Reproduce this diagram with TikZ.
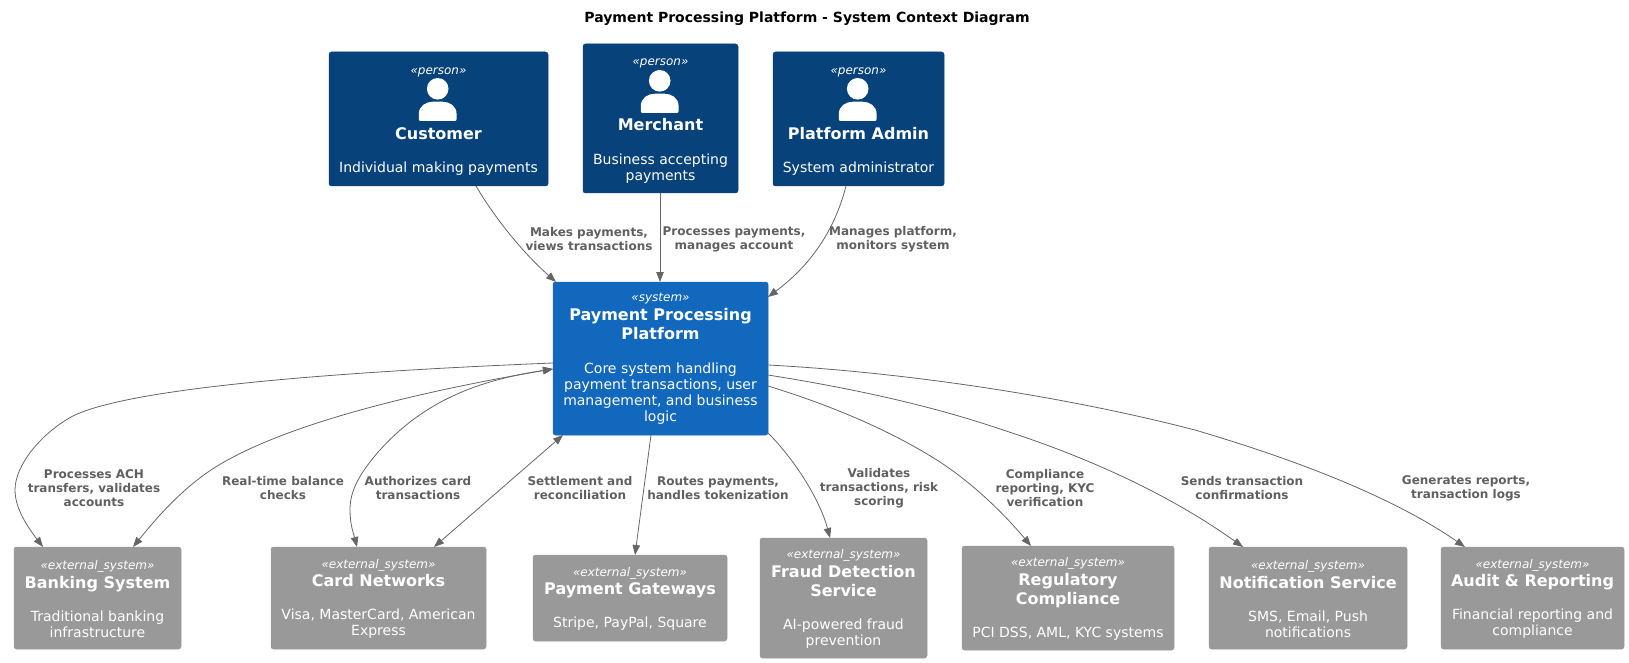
\documentclass[tikz,border=0pt]{standalone}
\usepackage{fontspec}
\setmainfont{DejaVu Sans}
\usetikzlibrary{arrows.meta,calc}
\definecolor{personc}{HTML}{08427B}
\definecolor{systemc}{HTML}{1168BD}
\definecolor{extc}{HTML}{999999}
\definecolor{linec}{HTML}{666666}
\definecolor{labelc}{HTML}{606060}
\newcommand{\sterline}[2][0pt]{{\fontsize{12}{16}\selectfont\itshape\rule{0pt}{#1}#2}}
\newcommand{\titleline}[1]{{\fontsize{16}{16}\selectfont\bfseries #1}}
\newcommand{\personicon}[1]{%
  \begin{scope}[shift={(#1.north)}]
    \fill[white] (-0.8,36.8) circle (10.8);
    \fill[white] (-17.7,69) -- (16.1,69) .. controls (17.5,69) and (18.1,68.4) .. (18.1,67) -- (18.1,62) .. controls (18.1,54) and (11,49.7) .. (4,49.7) -- (-5.6,49.7) .. controls (-12.6,49.7) and (-19.7,54) .. (-19.7,62) -- (-19.7,67) .. controls (-19.7,68.4) and (-19,69) .. (-17.7,69) -- cycle;
  \end{scope}}
\tikzset{
  basebox/.style={rectangle,rounded corners=2.5pt,inner sep=0pt,outer sep=0pt,align=center,text=white,line width=0.5pt,font=\fontsize{14}{16}\selectfont},
  personbox/.style={basebox,fill=personc,draw=personc},
  sysbox/.style={basebox,fill=systemc,draw=systemc},
  extbox/.style={basebox,fill=extc,draw=extc},
  conn/.style={draw=linec,line width=0.8pt},
  one/.style={conn,-{Triangle[length=10pt,width=7.5pt,fill=linec]}},
  both/.style={conn,{Triangle[length=10pt,width=7.5pt,fill=linec]}-{Triangle[length=10pt,width=7.5pt,fill=linec]}},
  lbl/.style={align=center,text=labelc,inner sep=0pt,font=\fontsize{12}{14}\selectfont\bfseries},
  ttl/.style={inner sep=0pt,font=\fontsize{14}{16}\selectfont\bfseries}
}
\begin{document}
\begin{tikzpicture}[x=1pt,y=-1pt]
\useasboundingbox (0,0) rectangle (1629,663);
\node[ttl] (title) at (807,19) {Payment Processing Platform - System Context Diagram};

\node[personbox,minimum width=219pt,minimum height=134pt] (customer) at (438.5,119) {\sterline[11.5pt]{«person»}\\[49pt]\titleline{Customer}\\[17.5pt]Individual making payments};
\node[personbox,minimum width=155pt,minimum height=149pt] (merchant) at (660.5,118.5) {\sterline[11.5pt]{«person»}\\[49pt]\titleline{Merchant}\\[17.5pt]Business accepting\\payments};
\node[personbox,minimum width=171pt,minimum height=134pt] (admin) at (858.5,119) {\sterline[11.5pt]{«person»}\\[49pt]\titleline{Platform Admin}\\[17.5pt]System administrator};
\personicon{customer}
\personicon{merchant}
\personicon{admin}

\node[sysbox,minimum width=215pt,minimum height=153pt] (platform) at (660.5,358.5) {\sterline{«system»}\\[3pt]\titleline{Payment Processing}\\[3pt]\titleline{Platform}\\[18pt]Core system handling\\payment transactions, user\\management, and business\\logic};

\node[extbox,minimum width=167pt,minimum height=102pt] (banking) at (97.5,598) {\sterline[11pt]{«external\_system»}\\[2.5pt]\titleline{Banking System}\\[17pt]Traditional banking\\infrastructure};
\node[extbox,minimum width=215pt,minimum height=102pt] (card) at (378.5,598) {\sterline[11pt]{«external\_system»}\\[2.5pt]\titleline{Card Networks}\\[17pt]Visa, MasterCard, American\\Express};
\node[extbox,minimum width=194pt,minimum height=86pt] (gateways) at (630,598) {\sterline[11pt]{«external\_system»}\\[2.5pt]\titleline{Payment Gateways}\\[17pt]Stripe, PayPal, Square};
\node[extbox,minimum width=167pt,minimum height=120pt] (fraud) at (843.5,598) {\sterline[11pt]{«external\_system»}\\[2.5pt]\titleline{Fraud Detection}\\[3pt]\titleline{Service}\\[17pt]AI-powered fraud\\prevention};
\node[extbox,minimum width=212pt,minimum height=104pt] (regulatory) at (1068,598) {\sterline[11pt]{«external\_system»}\\[2.5pt]\titleline{Regulatory}\\[3pt]\titleline{Compliance}\\[17pt]PCI DSS, AML, KYC systems};
\node[extbox,minimum width=198pt,minimum height=102pt] (notify) at (1308,598) {\sterline[11pt]{«external\_system»}\\[2.5pt]\titleline{Notification Service}\\[17pt]SMS, Email, Push\\notifications};
\node[extbox,minimum width=183pt,minimum height=102pt] (audit) at (1532.5,598) {\sterline[11pt]{«external\_system»}\\[2.5pt]\titleline{Audit \& Reporting}\\[17pt]Financial reporting and\\compliance};

\draw[one] ([xshift=37.5pt]customer.south) .. controls (493,215) and (520,250) .. ([xshift=-104.5pt]platform.north);
\draw[one] ([xshift=-0.5pt]merchant.south) -- ([xshift=-0.5pt]platform.north);
\draw[one] ([xshift=-12.5pt]admin.south) .. controls (836,225) and (815,262) .. ([yshift=-15pt]platform.north east);

\draw[one] ([yshift=-81pt]platform.north west) .. controls (380,370) and (131,385) .. (71,417) .. controls (41,434) and (15,465) .. (15,490) .. controls (15,510) and (30,530) .. ([xshift=-54.5pt]banking.north);
\draw[both] ([yshift=-87pt]platform.north west) .. controls (440,388) and (290,420) .. (214,468) .. controls (180,490) and (155,520) .. ([xshift=35.5pt]banking.north);
\draw[both] ([yshift=-87pt]platform.north west) .. controls (480,380) and (425,400) .. (380,450) .. controls (355,478) and (350,495) .. (350,510) .. controls (350,525) and (354,535) .. ([xshift=-21.5pt]card.north);
\draw[both] ([xshift=-97.5pt]platform.south) -- ([xshift=55.5pt]card.north);
\draw[one] ([xshift=-9.5pt]platform.south) -- ([xshift=5pt]gateways.north);
\draw[one] ([yshift=2pt]platform.south east) .. controls (795,460) and (820,500) .. ([xshift=-13.5pt]fraud.north);
\draw[one] ([yshift=-104pt]platform.north east) .. controls (830,405) and (890,430) .. (940,462) .. controls (975,485) and (1005,515) .. ([xshift=-37pt]regulatory.north);
\draw[one] ([yshift=-93pt]platform.north east) .. controls (850,388) and (930,405) .. (1003,430) .. controls (1090,458) and (1170,495) .. ([xshift=-65pt]notify.north);
\draw[one] ([yshift=-83pt]platform.north east) .. controls (900,372) and (1060,395) .. (1195,430) .. controls (1290,458) and (1390,495) .. ([xshift=-67.5pt]audit.north);

\node[lbl] (l1) at (589,239) {Makes payments,\\views transactions};
\node[lbl] (l2) at (734,239) {Processes payments,\\manages account};
\node[lbl] (l3) at (893,239) {Manages platform,\\monitors system};
\node[lbl] (l4) at (94,488.5) {Processes ACH\\transfers, validates\\accounts};
\node[lbl] (l5) at (283,488.5) {Real-time balance\\checks};
\node[lbl] (l6) at (418,488.5) {Authorizes card\\transactions};
\node[lbl] (l7) at (580,488.5) {Settlement and\\reconciliation};
\node[lbl] (l8) at (718,488.5) {Routes payments,\\handles tokenization};
\node[lbl] (l9) at (879,488.5) {Validates\\transactions, risk\\scoring};
\node[lbl] (l10) at (1045,488.5) {Compliance\\reporting, KYC\\verification};
\node[lbl] (l11) at (1242,488.5) {Sends transaction\\confirmations};
\node[lbl] (l12) at (1466,488.5) {Generates reports,\\transaction logs};
\end{tikzpicture}
\end{document}
